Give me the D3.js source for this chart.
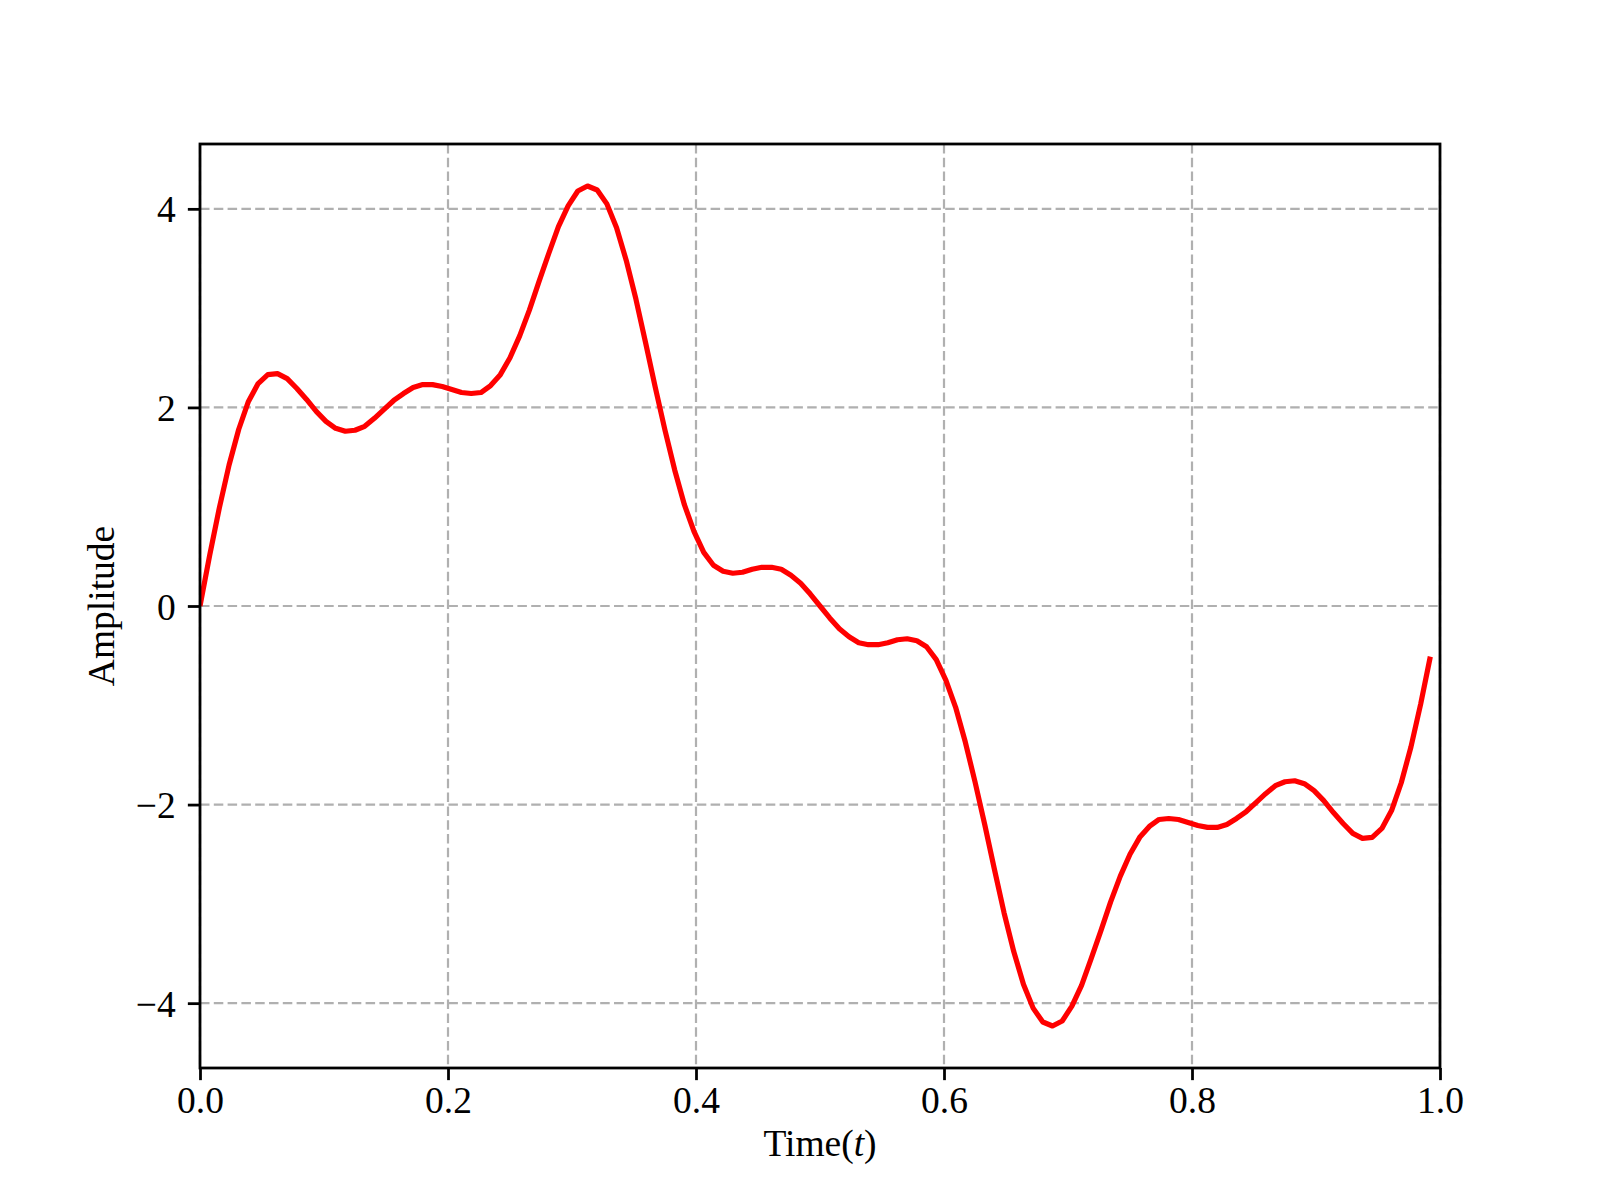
<!DOCTYPE html>
<html>
<head>
<meta charset="utf-8">
<script src="https://cdn.jsdelivr.net/npm/d3@7"></script>
<style>
  html, body { margin: 0; padding: 0; background: #ffffff; }
  svg { display: block; }
  text { font-family: "Liberation Serif", "Times New Roman", serif; fill: #000; }
</style>
</head>
<body>
<svg id="chart" width="1600" height="1200"></svg>
<script>
// ---- data ----
const sampleStep = 1 / 128;            // spacing of the samples along Time(t)
const amplitude = [
  0, 0.51, 0.99, 1.42, 1.78, 2.06, 2.24, 2.33, 2.34, 2.29, 2.19, 2.08, 1.96, 1.86, 1.79, 1.76,
  1.77, 1.81, 1.89, 1.98, 2.07, 2.14, 2.20, 2.23, 2.23, 2.21, 2.18, 2.15, 2.14, 2.15, 2.22, 2.33,
  2.50, 2.72, 2.98, 3.27, 3.55, 3.82, 4.03, 4.18, 4.23, 4.19, 4.05, 3.81, 3.48, 3.09, 2.65, 2.20,
  1.77, 1.37, 1.02, 0.75, 0.54, 0.41, 0.35, 0.33, 0.34, 0.37, 0.39, 0.39, 0.37, 0.31, 0.23, 0.12,
  0, -0.12, -0.23, -0.31, -0.37, -0.39, -0.39, -0.37, -0.34, -0.33, -0.35, -0.41, -0.54, -0.75, -1.02, -1.37,
  -1.77, -2.20, -2.65, -3.09, -3.48, -3.81, -4.05, -4.19, -4.23, -4.18, -4.03, -3.82, -3.55, -3.27, -2.98, -2.72,
  -2.50, -2.33, -2.22, -2.15, -2.14, -2.15, -2.18, -2.21, -2.23, -2.23, -2.20, -2.14, -2.07, -1.98, -1.89, -1.81,
  -1.77, -1.76, -1.79, -1.86, -1.96, -2.08, -2.19, -2.29, -2.34, -2.33, -2.24, -2.06, -1.78, -1.42, -0.99, -0.51
];
const xTicks = [0.0, 0.2, 0.4, 0.6, 0.8, 1.0];
const xTickLabels = ["0.0", "0.2", "0.4", "0.6", "0.8", "1.0"];
const yTicks = [-4, -2, 0, 2, 4];
const yTickLabels = ["\u22124", "\u22122", "0", "2", "4"];
const xLabel = "Time(";
const xLabelItalic = "t";
const yLabel = "Amplitude";

// ---- layout ----
const plotLeft = 200, plotRight = 1440, plotTop = 144, plotBottom = 1068;
const fontPx = 37.5;
const tickLen = 12.15, tickPad = 12.15;

const svg = d3.select("#chart");

const yMax = d3.max(amplitude, Math.abs);
const ySpan = 2 * yMax;
const x = d3.scaleLinear().domain([0, 1]).range([plotLeft, plotRight]);
const y = d3.scaleLinear().domain([-yMax - 0.05 * ySpan, yMax + 0.05 * ySpan]).range([plotBottom, plotTop]);

// grid
const grid = svg.append("g").attr("stroke", "#b0b0b0").attr("stroke-width", 2.2)
  .attr("stroke-dasharray", "9.5,4.3").attr("fill", "none");
grid.selectAll("line.gx").data(xTicks).join("line").attr("class", "gx")
  .attr("x1", d => x(d)).attr("x2", d => x(d)).attr("y1", plotTop).attr("y2", plotBottom);
grid.selectAll("line.gy").data(yTicks).join("line").attr("class", "gy")
  .attr("x1", plotLeft).attr("x2", plotRight).attr("y1", d => y(d)).attr("y2", d => y(d));

// clip
svg.append("clipPath").attr("id", "plotclip").append("rect")
  .attr("x", plotLeft).attr("y", plotTop).attr("width", plotRight - plotLeft).attr("height", plotBottom - plotTop);

// line
const pts = amplitude.map((v, i) => [i * sampleStep, v]);
svg.append("path")
  .attr("clip-path", "url(#plotclip)")
  .attr("d", d3.line().x(d => x(d[0])).y(d => y(d[1]))(pts))
  .attr("fill", "none").attr("stroke", "#ff0000").attr("stroke-width", 5.2)
  .attr("stroke-linejoin", "round").attr("stroke-linecap", "butt");

// axes with d3 axis generators
const xAxis = d3.axisBottom(x).tickValues(xTicks).tickFormat((d, i) => xTickLabels[i])
  .tickSizeInner(tickLen).tickSizeOuter(0).tickPadding(tickPad);
const gx = svg.append("g").attr("transform", `translate(0,${plotBottom})`).call(xAxis);
gx.select(".domain").remove();
gx.selectAll(".tick line").attr("stroke", "#000").attr("stroke-width", 2.78);
gx.selectAll(".tick text").attr("font-size", fontPx).attr("font-family", "Liberation Serif")
  .attr("dy", null).attr("y", 44.5).attr("fill", "#000");

const yAxis = d3.axisLeft(y).tickValues(yTicks).tickFormat((d, i) => yTickLabels[i])
  .tickSizeInner(tickLen).tickSizeOuter(0).tickPadding(tickPad);
const gy = svg.append("g").attr("transform", `translate(${plotLeft},0)`).call(yAxis);
gy.select(".domain").remove();
gy.selectAll(".tick line").attr("stroke", "#000").attr("stroke-width", 2.78);
gy.selectAll(".tick text").attr("font-size", fontPx).attr("font-family", "Liberation Serif")
  .attr("dy", null).attr("y", 13).attr("fill", "#000");

// spines
svg.append("rect").attr("x", plotLeft).attr("y", plotTop)
  .attr("width", plotRight - plotLeft).attr("height", plotBottom - plotTop)
  .attr("fill", "none").attr("stroke", "#000").attr("stroke-width", 2.78);

// axis labels
const xl = svg.append("text").attr("x", (plotLeft + plotRight) / 2).attr("y", 1156)
  .attr("text-anchor", "middle").attr("font-size", fontPx);
xl.append("tspan").text(xLabel);
xl.append("tspan").attr("font-style", "italic").text(xLabelItalic);
xl.append("tspan").text(")");

svg.append("text").attr("transform", `translate(114,${(plotTop + plotBottom) / 2}) rotate(-90)`)
  .attr("text-anchor", "middle").attr("font-size", fontPx).text(yLabel);
</script>
</body>
</html>
